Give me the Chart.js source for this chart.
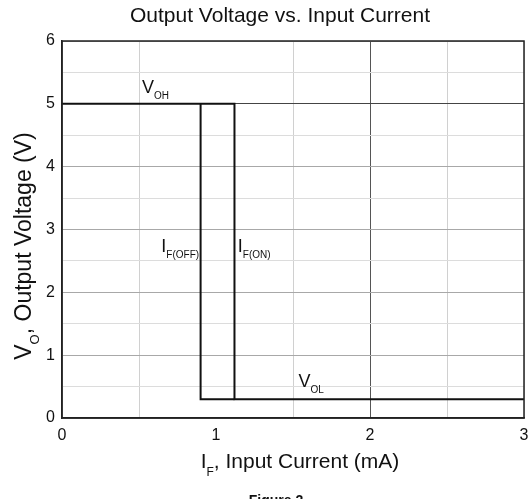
<!DOCTYPE html>
<html>
<head>
<meta charset="utf-8">
<script src="https://cdn.jsdelivr.net/npm/chart.js@4/dist/chart.umd.min.js"></script>
<style>
    html, body { margin: 0; padding: 0; background: #fff; }
    #wrap { width: 531px; height: 499px; }
</style>
</head>
<body>
<div id="wrap"><canvas id="voltageChart" width="531" height="499"></canvas></div>
<script>
// Hysteresis loop, upper path (V_OH, then drop at I_F(ON), then V_OL)
const onCurrent = [0, 1.12, 1.12, 3];
const onVoltage = [5, 5, 0.3, 0.3];
// Lower edge of loop, drop at I_F(OFF)
const offCurrent = [0.9, 0.9, 1.12];
const offVoltage = [5, 0.3, 0.3];

// Axis tick labels
const xTicks = [0, 1, 2, 3];
const yTicks = [0, 1, 2, 3, 4, 5, 6];

// Text labels placed on the plot: [main, subscript, x, y]
const plotLabels = [
    ['V', 'OH', 0.52, 5.17],
    ['I', 'F(OFF)', 0.645, 2.64],
    ['I', 'F(ON)', 1.142, 2.64],
    ['V', 'OL', 1.535, 0.49]
];

const font = 'Arial, "Liberation Sans", sans-serif';

function toPoints(xs, ys) {
    return xs.map((x, i) => ({ x: x, y: ys[i] }));
}

// Draws a main string with a subscript right after it, returns the total width
function drawWithSub(ctx, x, y, main, sub, size, subSize, drop) {
    ctx.font = size + 'px ' + font;
    ctx.fillText(main, x, y);
    let w = ctx.measureText(main).width;
    ctx.font = subSize + 'px ' + font;
    ctx.fillText(sub, x + w, y + drop);
    return w + ctx.measureText(sub).width;
}

function measureWithSub(ctx, main, sub, rest, size, subSize) {
    ctx.font = size + 'px ' + font;
    let w = ctx.measureText(main).width + ctx.measureText(rest).width;
    ctx.font = subSize + 'px ' + font;
    return w + ctx.measureText(sub).width;
}

// Plugin for the titles, the subscripted labels and the box around the plot
const textPlugin = {
    id: 'textPlugin',
    afterDraw(chart) {
        const ctx = chart.ctx;
        const area = chart.chartArea;
        const xs = chart.scales.x;
        const ys = chart.scales.y;
        ctx.save();
        ctx.fillStyle = '#111';
        ctx.textBaseline = 'alphabetic';

        // box
        ctx.strokeStyle = '#222';
        ctx.lineWidth = 1.5;
        ctx.strokeRect(area.left, area.top, area.right - area.left, area.bottom - area.top);

        // chart title
        ctx.font = '21px ' + font;
        ctx.textAlign = 'center';
        ctx.fillText('Output Voltage vs. Input Current', 280, 22);

        // figure caption (cut off at the bottom edge, as in the original)
        ctx.font = 'bold 14px ' + font;
        ctx.fillText('Figure 2', 276, 505);
        ctx.textAlign = 'left';

        // x axis title
        let w = measureWithSub(ctx, 'I', 'F', ', Input Current (mA)', 21, 12);
        let x0 = 300 - w / 2;
        let wMain = drawWithSub(ctx, x0, 468, 'I', 'F', 21, 12, 8);
        ctx.font = '21px ' + font;
        ctx.fillText(', Input Current (mA)', x0 + wMain, 468);

        // y axis title (rotated)
        ctx.save();
        ctx.translate(31, 246);
        ctx.rotate(-Math.PI / 2);
        w = measureWithSub(ctx, 'V', 'O', ', Output Voltage (V)', 23, 13);
        wMain = drawWithSub(ctx, -w / 2, 0, 'V', 'O', 23, 13, 8);
        ctx.font = '23px ' + font;
        ctx.fillText(', Output Voltage (V)', -w / 2 + wMain, 0);
        ctx.restore();

        // labels on the curve
        for (const lab of plotLabels) {
            drawWithSub(ctx, xs.getPixelForValue(lab[2]), ys.getPixelForValue(lab[3]), lab[0], lab[1], 18, 10, 6);
        }
        ctx.restore();
    }
};

const config = {
    type: 'scatter',
    data: {
        datasets: [{
            data: toPoints(onCurrent, onVoltage),
            showLine: true,
            borderColor: '#111',
            borderWidth: 2,
            pointRadius: 0
        }, {
            data: toPoints(offCurrent, offVoltage),
            showLine: true,
            borderColor: '#111',
            borderWidth: 2,
            pointRadius: 0
        }]
    },
    options: {
        responsive: false,
        animation: false,
        layout: { padding: { top: 41, right: 7, left: 0, bottom: 0 } },
        scales: {
            x: {
                type: 'linear',
                min: xTicks[0],
                max: xTicks[xTicks.length - 1],
                afterFit: (scale) => {
                    scale.height = 81;
                    scale.paddingLeft = 0;
                    scale.paddingRight = 0;
                },
                ticks: {
                    stepSize: 0.5,
                    color: '#111',
                    padding: 8,
                    maxRotation: 0,
                    font: { family: font, size: 16 },
                    callback: (v) => xTicks.includes(v) ? String(v) : ''
                },
                grid: {
                    drawTicks: false,
                    lineWidth: 1,
                    color: (c) => {
                        const v = c.tick ? c.tick.value : null;
                        if (v === 2) return '#555';
                        if (v === 1) return 'rgba(0,0,0,0)';
                        return '#d0d0d0';
                    }
                },
                border: { color: '#222', width: 1.5 }
            },
            y: {
                type: 'linear',
                min: yTicks[0],
                max: yTicks[yTicks.length - 1],
                afterFit: (scale) => {
                    scale.width = 62;
                    scale.paddingTop = 0;
                    scale.paddingBottom = 0;
                },
                ticks: {
                    stepSize: 0.5,
                    color: '#111',
                    padding: 7,
                    font: { family: font, size: 16 },
                    callback: (v) => yTicks.includes(v) ? String(v) : ''
                },
                grid: {
                    drawTicks: false,
                    lineWidth: 1,
                    color: (c) => {
                        const v = c.tick ? c.tick.value : null;
                        if (v === 5) return '#444';
                        if (Number.isInteger(v)) return '#a8a8a8';
                        return '#dcdcdc';
                    }
                },
                border: { color: '#222', width: 1.5 }
            }
        },
        plugins: {
            legend: { display: false },
            tooltip: { enabled: false },
            title: { display: false }
        }
    },
    plugins: [textPlugin]
};

const chart = new Chart('voltageChart', config);
</script>
</body>
</html>
